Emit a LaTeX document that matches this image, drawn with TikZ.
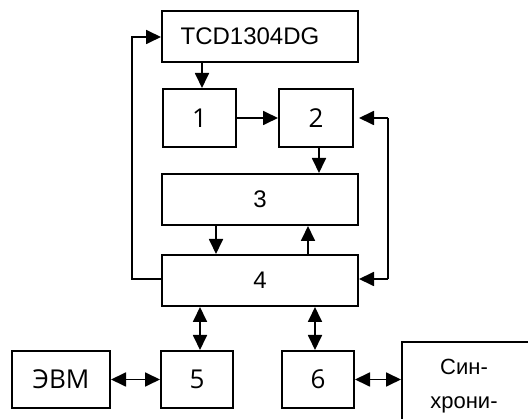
\documentclass[tikz,border=0pt]{standalone}
\usepackage{fontspec}
\setmainfont{Liberation Sans}
\newfontfamily\digfont{Open Sans}
\usetikzlibrary{arrows.meta}
\tikzset{
  blk/.style={draw, line width=2pt, inner sep=0pt, anchor=center},
  arialtxt/.style={font=\fontsize{24}{28}\selectfont},
  opentxt/.style={font=\digfont\fontsize{26}{30}\selectfont},
  conn/.style={line width=1.8pt, -{Triangle[length=15pt,width=14pt]}},
  biconn/.style={line width=1.8pt, {Triangle[length=15pt,width=14pt]}-{Triangle[length=15pt,width=14pt]}},
  plain/.style={line width=1.8pt}
}
\begin{document}
\begin{tikzpicture}[x=1pt,y=-1pt]
\useasboundingbox (0,0) rectangle (528,419);
\clip (0,0) rectangle (528,419);
\node[blk, arialtxt, minimum width=196pt, minimum height=51pt] (tcd) at (260,36.5) {TCD1304DG\hspace*{20pt}};
\node[blk, opentxt, minimum width=73pt, minimum height=58pt] (b1) at (199.5,118) {1};
\node[blk, opentxt, minimum width=74pt, minimum height=58pt] (b2) at (316,118) {2};
\node[blk, arialtxt, minimum width=196pt, minimum height=51pt] (b3) at (260,199.5) {3};
\node[blk, arialtxt, minimum width=196pt, minimum height=51pt] (b4) at (260,280.5) {4};
\node[blk, opentxt, minimum width=98pt, minimum height=57pt] (evm) at (61,379.5) {ЭВМ};
\node[blk, opentxt, minimum width=72pt, minimum height=57pt] (b5) at (197,379.5) {5};
\node[blk, opentxt, minimum width=72pt, minimum height=57pt] (b6) at (318,379.5) {6};
\node[blk, anchor=north west, minimum width=130pt, minimum height=120pt] (sync) at (401,341) {};
\node[font=\fontsize{22}{34}\selectfont, align=center, anchor=north, inner sep=0pt] (synct) at (464,359) {Син-\\хрони-};
% coordinates for connector positions
\coordinate (xa) at (202,0);
\coordinate (xb) at (319,0);
\coordinate (xc) at (216,0);
\coordinate (xd) at (308,0);
\coordinate (xe) at (200,0);
\coordinate (xf) at (315,0);
\coordinate (lx) at (132,0);
\coordinate (rx) at (388,0);
\coordinate (ly) at (0,37);
\coordinate (ry) at (0,279);
% connectors
\draw[conn] (tcd.south -| xa) -- (b1.north -| xa);
\draw[conn] (b1.east) -- (b2.west);
\draw[conn] (b2.south -| xb) -- (b3.north -| xb);
\draw[conn] (b3.south -| xc) -- (b4.north -| xc);
\draw[conn] (b4.north -| xd) -- (b3.south -| xd);
\draw[conn] (b4.west |- ry) -- (lx |- ry) -- (lx |- ly) -- (tcd.west |- ly);
\draw[conn, shorten >=5pt] (rx |- b2.east) -- (b2.east);
\draw[plain] (rx |- b2.east) -- (rx |- ry);
\draw[conn] (rx |- ry) -- (b4.east |- ry);
\draw[biconn] (b4.south -| xe) -- (b5.north -| xe);
\draw[biconn] (b4.south -| xf) -- (b6.north -| xf);
\draw[biconn] (evm.east) -- (b5.west);
\draw[biconn] (b6.east) -- (sync.west |- b6.east);
\end{tikzpicture}
\end{document}
